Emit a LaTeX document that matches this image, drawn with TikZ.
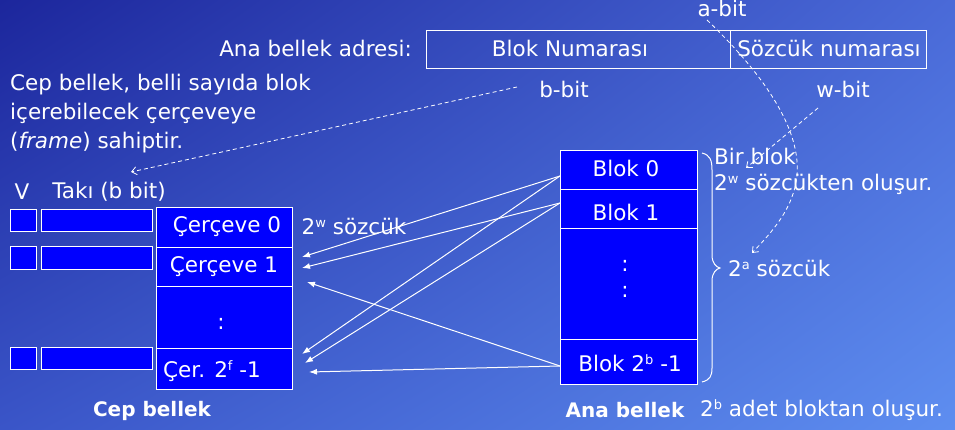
\documentclass[tikz,border=0pt]{standalone}
\usepackage{fontspec}
\setmainfont{DejaVu Sans}
\usetikzlibrary{arrows.meta,calc,shadings}
\definecolor{bgTL}{RGB}{28,38,156}
\definecolor{bgTR}{RGB}{74,106,216}
\definecolor{bgBL}{RGB}{58,85,200}
\definecolor{bgBR}{RGB}{94,142,240}
\definecolor{pureblue}{RGB}{0,0,255}
\newcommand{\supx}[1]{\raisebox{0.55ex}{\fontsize{13}{13}\selectfont #1}}
\begin{document}
\begin{tikzpicture}[x=1pt,y=-1pt,
  every node/.style={text=white, inner sep=0pt, font=\fontsize{21.5}{26}\selectfont},
  cell/.style={draw=white, line width=1.3pt, fill=pureblue, anchor=north west, minimum width=#1},
  cell/.default=136pt,
  smallbox/.style={draw=white, line width=1.2pt, fill=pureblue, anchor=north west, minimum height=22pt},
  addrbox/.style={draw=white, line width=1.2pt, anchor=north west, minimum height=38pt},
  link/.style={draw=white, line width=1pt, -{Latex[length=8pt,width=6pt]}},
  hint/.style={draw=white, line width=0.8pt, dashed, dash pattern=on 4pt off 3pt, -{Straight Barb[length=5pt,width=8pt]}},
  boldtext/.style={font=\fontsize{20}{24}\selectfont\bfseries}
]
\shade[upper left=bgTL, upper right=bgTR, lower left=bgBL, lower right=bgBR] (0,0) rectangle (955,430);
\useasboundingbox (0,0) rectangle (955,430);

% address
\node[anchor=east] (adrlbl) at (412,48) {Ana bellek adresi:};
\node[addrbox, minimum width=304pt] (blokno) at (426,30) {};
\node[addrbox, minimum width=196pt] (sozno) at (730,30) {};
\node (bloknot) at (570,48) {Blok Numarası};
\node (soznot) at (829,48) {Sözcük numarası};
\node (abit) at (722,8) {a-bit};
\node (bbit) at (564,89) {b-bit};
\node (wbit) at (843,89) {w-bit};

% left description
\node[anchor=west, align=left, font=\fontsize{21.5}{29}\selectfont] (desc) at (10,114) {Cep bellek, belli sayıda blok\\içerebilecek çerçeveye\\(\textit{frame}) sahiptir.};
\node (vlbl) at (22,192) {V};
\node (taki) at (109,192) {Takı (b bit)};

% V and tag boxes
\node[smallbox, minimum width=26pt] (v1) at (10,209) {};
\node[smallbox, minimum width=111pt] (t1) at (41,209) {};
\node[smallbox, minimum width=26pt, minimum height=23pt] (v2) at (10,246) {};
\node[smallbox, minimum width=111pt, minimum height=23pt] (t2) at (41,246) {};
\node[smallbox, minimum width=26pt] (v3) at (10,347) {};
\node[smallbox, minimum width=111pt] (t3) at (41,347) {};

% cache column
\node[cell, minimum height=40pt] (c0) at (156,207) {};
\node[cell, minimum height=39pt] (c1) at (156,247) {};
\node[cell, minimum height=62pt] (c2) at (156,286) {};
\node[cell, minimum height=41pt] (c3) at (156,348) {};
\node (c0t) at (227,227) {Çerçeve 0};
\node (c1t) at (224,267) {Çerçeve 1};
\node (c2t) at (221,324) {:};
\node (c3t) at (212,371) {Çer. 2\supx{f} -1};
\node (wsoz) at (354,226) {2\supx{w} sözcük};
\node[boldtext] (cep) at (152,411) {Cep bellek};

% main memory column
\node[cell=137pt, minimum height=39pt] (m0) at (560,150) {};
\node[cell=137pt, minimum height=39pt] (m1) at (560,189) {};
\node[cell=137pt, minimum height=111pt] (m2) at (560,228) {};
\node[cell=137pt, minimum height=45pt] (m3) at (560,339) {};
\node (m0t) at (626,168) {Blok 0};
\node (m1t) at (626,212) {Blok 1};
\node (m2a) at (625,266) {:};
\node (m2b) at (625,292) {:};
\node (m3t) at (630,363) {Blok 2\supx{b} -1};
\node[boldtext] (ana) at (625,410) {Ana bellek};
\node[anchor=west] (adet) at (700,410) {2\supx{b} adet bloktan oluşur.};

% brace and its notes
\draw[white, line width=1pt] (702,153) .. controls (710,155) and (712,160) .. (712,170) -- (712,255)
  .. controls (712,263) and (716,267) .. (720,268) .. controls (716,269) and (712,273) .. (712,281)
  -- (712,368) .. controls (712,376) and (710,380) .. (702,382);
\node[anchor=west, align=left] (birblok) at (714,171) {Bir blok\\2\supx{w} sözcükten oluşur.};
\node[anchor=west] (asoz) at (728,268) {2\supx{a} sözcük};

% arrow end points
\coordinate (s0) at (560,176);
\coordinate (s1) at (560,203);
\coordinate (s3) at (560,366);
\coordinate (e1) at (302,257);
\coordinate (e2) at (302,268);
\coordinate (e3) at (307,282);
\coordinate (e4) at (302,354);
\coordinate (e5) at (305,363);
\coordinate (e6) at (309,372);
\draw[link] (s0) -- (e1);
\draw[link] (s1) -- (e2);
\draw[link] (s3) -- (e3);
\draw[link] (s0) -- (e4);
\draw[link] (s1) -- (e5);
\draw[link] (s3) -- (e6);

% dashed hints
\coordinate (bstart) at (517,87);
\coordinate (bend) at (131,172);
\draw[hint] (bstart) -- (bend);
\coordinate (astart) at (707,20);
\coordinate (aend) at (752,253);
\draw[hint] (astart) .. controls (780,90) and (800,140) .. (797,175) .. controls (794,208) and (772,232) .. (aend);
\coordinate (wstart) at (818,108);
\coordinate (wend) at (746,168);
\draw[hint] (wstart) -- (wend);
\end{tikzpicture}
\end{document}
